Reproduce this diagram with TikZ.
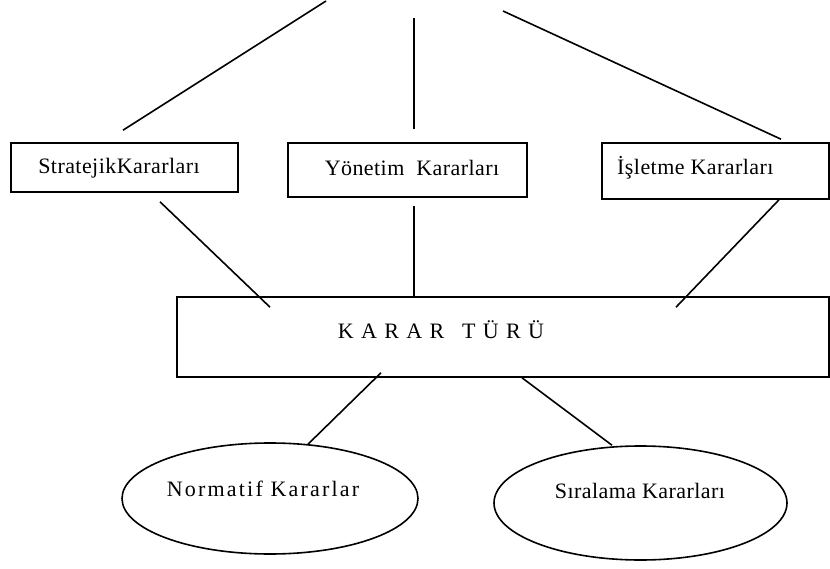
\documentclass[tikz,border=0pt]{standalone}
\usepackage{fontspec}
\setmainfont{Liberation Serif}
\usetikzlibrary{shapes.geometric}
\begin{document}
\begin{tikzpicture}[x=1pt,y=-1pt,
  conn/.style={line width=1.6pt},
  boxnode/.style={draw,line width=1.6pt,rectangle,inner sep=0pt},
  ovalnode/.style={draw,line width=1.6pt,ellipse,inner sep=0pt},
  lbl/.style={font=\fontsize{22}{26}\selectfont\addfontfeature{LetterSpace=2},inner sep=0pt}]
\useasboundingbox (0,0) rectangle (830,569);
% boxes
\node[boxnode,minimum width=227pt,minimum height=49pt] (strat) at (124.5,167.5) {};
\node[lbl] (stratt) at (119,168) {StratejikKararları};
\node[boxnode,minimum width=239pt,minimum height=54pt] (yon) at (407.5,170) {};
\node[lbl] (yont) at (412,168) {Yönetim\ \ Kararları};
\node[boxnode,minimum width=227pt,minimum height=56pt] (isl) at (715.5,171) {};
\node[lbl,anchor=west] (islt) at (617,168) {İşletme Kararları};
\node[boxnode,minimum width=652pt,minimum height=80pt] (karar) at (503,337) {};
\node[lbl] (karart) at (441,330) {K\,\,A\,\,R\,\,A\,\,R \ \ T\,\,Ü\,\,R\,\,Ü};
\node[ovalnode,minimum width=296pt,minimum height=111pt] (norm) at (270,498.5) {};
\node[lbl,font=\fontsize{22}{26}\selectfont\addfontfeature{LetterSpace=10}] (normt) at (263,489) {Normatif Kararlar};
\node[ovalnode,minimum width=293pt,minimum height=114pt] (sira) at (640.5,503) {};
\node[lbl] (sirat) at (640,491) {Sıralama Kararları};
% free ends at top
\coordinate (top1) at (326,1);
\coordinate (top2) at (414,18);
\coordinate (top3) at (503,11);
\draw[conn] ([xshift=-1.5pt,yshift=12pt]strat.north) -- (top1);
\draw[conn] ([xshift=6.5pt,yshift=13pt]yon.north) -- (top2);
\draw[conn] ([xshift=65.5pt,yshift=3pt]isl.north) -- (top3);
% boxes to karar
\draw[conn] ([xshift=35.5pt,yshift=-9pt]strat.south) -- ([xshift=-233pt,yshift=-11pt]karar.north);
\draw[conn] ([xshift=6.5pt,yshift=-8pt]yon.south) -- ([xshift=-89pt]karar.north);
\draw[conn] ([xshift=63.5pt]isl.south) -- ([xshift=173pt,yshift=-11pt]karar.north);
% karar to ellipses
\draw[conn] ([xshift=-122pt,yshift=5pt]karar.south) -- ([xshift=38pt,yshift=-2pt]norm.north);
\draw[conn] ([xshift=19pt]karar.south) -- ([xshift=-28.5pt,yshift=-0pt]sira.north);
\end{tikzpicture}
\end{document}
